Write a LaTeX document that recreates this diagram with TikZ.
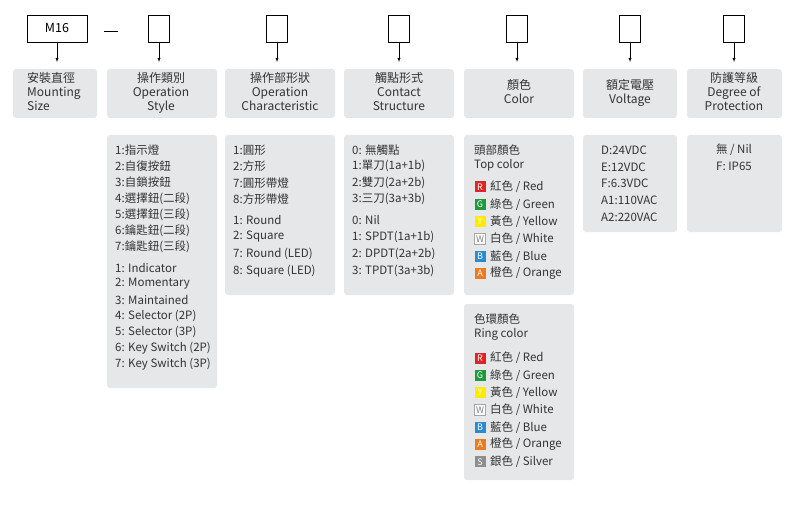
\documentclass[tikz,border=0pt]{standalone}
\usepackage{fontspec}
\setmainfont{Noto Sans CJK TC}
\usetikzlibrary{positioning}
\definecolor{panelgray}{HTML}{E5E7E9}
\definecolor{txtgray}{HTML}{333333}
\definecolor{cred}{HTML}{E02424}
\definecolor{cgreen}{HTML}{1E9A3C}
\definecolor{cyellow}{HTML}{FFEA00}
\definecolor{cblue}{HTML}{2A8BCF}
\definecolor{corange}{HTML}{EE7A1E}
\definecolor{csilver}{HTML}{8E8E8E}
\tikzset{
  x=1pt, y=-1pt,
  % code boxes on top
  code/.style={draw, thick, minimum width=21pt, minimum height=27pt, inner sep=0pt},
  % gray panels
  panel/.style={fill=panelgray, rounded corners=3pt},
  ln/.style={anchor=west, inner sep=0pt, font=\fontsize{11.5}{13}\selectfont, text=txtgray},
  head/.style={align=left, anchor=north west, inner sep=0pt, font=\fontsize{12}{14}\selectfont, text=txtgray},
  badge/.style={minimum size=11pt, inner sep=0pt, font=\fontsize{9}{9}\selectfont, text=white},
}
\newcommand{\colorlist}[3]{% start y, prefix, list
  \foreach \c/\l/\t [count=\i from 0] in {#3} {
    \node[badge, fill=\c] (#2b\i) at (480,#1+17.3*\i) {\l};
    \node[ln] (#2t\i) at (490,#1+17.3*\i) {\t};
  }
}
\begin{document}
\begin{tikzpicture}
\useasboundingbox (0,0) rectangle (800,505);
% code boxes
\node[code, minimum width=60pt, font=\fontsize{12.5}{14}\selectfont] (m16) at (57,28.5) {M16};
\coordinate (dl) at (104,31);
\coordinate (dr) at (118,31);
\draw[thick] (dl) -- (dr);
\foreach \n/\x in {os/159, oc/277, cs/399, co/517, vo/630, dp/734}
  \node[code] (\n) at (\x,28.5) {};
% header panels
\foreach \a/\b in {13/97, 107/217, 225/335, 344/454, 464/574, 583/677, 687/782}
  \fill[panel] (\a,69) rectangle (\b,118);
\node[head] (h1) at (27,72) {安裝直徑\\Mounting\\Size};
\node[head, align=center, anchor=north] (h2) at (161,72) {操作類別\\Operation\\Style};
\node[head, align=center, anchor=north] (h3) at (280,72) {操作部形狀\\Operation\\Characteristic};
\node[head, align=center, anchor=north] (h4) at (399,72) {觸點形式\\Contact\\Structure};
\node[head, align=center, anchor=north] (h5) at (519,79) {顏色\\Color};
\node[head, align=center, anchor=north] (h6) at (630,79) {額定電壓\\Voltage};
\node[head, align=center, anchor=north] (h7) at (734,72) {防護等級\\Degree of\\Protection};
% arrows
\foreach \n/\x in {m16/57, os/159, oc/277, cs/399, co/517, vo/630, dp/734}
  \draw[-latex] (\n.south) -- (\x,62);
% option panels
\fill[panel] (107,135) rectangle (217,388);
\fill[panel] (225,135) rectangle (335,295);
\fill[panel] (344,135) rectangle (454,295);
\fill[panel] (464,135) rectangle (574,295);
\fill[panel] (464,304) rectangle (574,480);
\fill[panel] (583,135) rectangle (677,232);
\fill[panel] (687,135) rectangle (782,232);
% operation style
\foreach \t [count=\i from 0] in {1:指示燈, 2:自復按鈕, 3:自鎖按鈕, 4:選擇鈕(二段), 5:選擇鈕(三段), 6:鑰匙鈕(二段), 7:鑰匙鈕(三段)}
  \node[ln] (s\i) at (115,150+16.2*\i) {\t};
\foreach \t [count=\i from 0] in {1: Indicator, 2: Momentary, 3: Maintained, 4: Selector (2P), 5: Selector (3P), 6: Key Switch (2P), 7: Key Switch (3P)}
  \node[ln] (e\i) at (115,268+16*\i) {\t};
% operation characteristic
\foreach \t [count=\i from 0] in {1:圓形, 2:方形, 7:圓形帶燈, 8:方形帶燈}
  \node[ln] (c\i) at (233,150+16.4*\i) {\t};
\foreach \t [count=\i from 0] in {1: Round, 2: Square, 7: Round (LED), 8: Square (LED)}
  \node[ln] (d\i) at (233,220+17*\i) {\t};
% contact structure
\foreach \t [count=\i from 0] in {0: 無觸點, 1:單刀(1a+1b), 2:雙刀(2a+2b), 3:三刀(3a+3b)}
  \node[ln] (k\i) at (352,150+16.4*\i) {\t};
\foreach \t [count=\i from 0] in {0: Nil, 1: SPDT(1a+1b), 2: DPDT(2a+2b), 3: TPDT(3a+3b)}
  \node[ln] (l\i) at (352,220+17*\i) {\t};
% colours
\node[ln] (top) at (474,150) {頭部顏色};
\node[ln] (topen) at (474,165) {Top color};
\colorlist{187}{tp}{cred/R/{紅色 / Red}, cgreen/G/{綠色 / Green}, cyellow/Y/{黃色 / Yellow}, white/W/{白色 / White}, cblue/B/{藍色 / Blue}, corange/A/{橙色 / Orange}}
\node[ln] (ring) at (474,319) {色環顏色};
\node[ln] (ringen) at (474,334) {Ring color};
\colorlist{358}{rg}{cred/R/{紅色 / Red}, cgreen/G/{綠色 / Green}, cyellow/Y/{黃色 / Yellow}, white/W/{白色 / White}, cblue/B/{藍色 / Blue}, corange/A/{橙色 / Orange}, csilver/S/{銀色 / Silver}}
\node[badge, draw=gray!70, text=gray] at (tpb3) {W};
\node[badge, draw=gray!70, text=gray] at (rgb3) {W};
% voltage
\foreach \t [count=\i from 0] in {D:24VDC, E:12VDC, F:6.3VDC, A1:110VAC, A2:220VAC}
  \node[ln] (v\i) at (601,150+16.8*\i) {\t};
% protection
\node[ln, anchor=center] (p0) at (734,150) {無 / Nil};
\node[ln, anchor=center] (p1) at (734,166) {F: IP65};
\end{tikzpicture}
\end{document}
